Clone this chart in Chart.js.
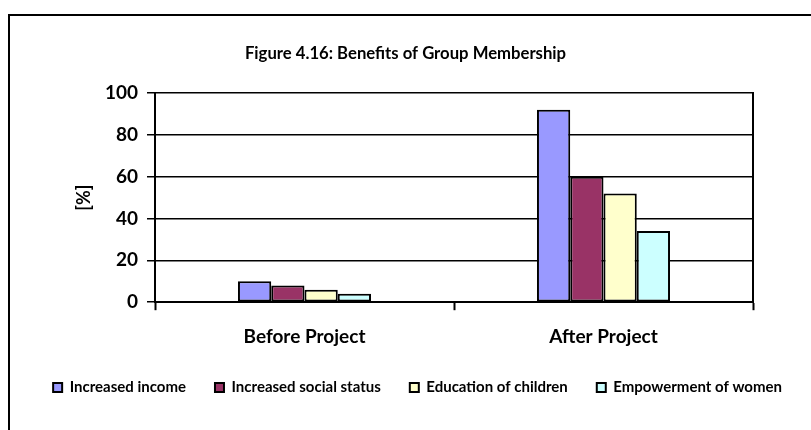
<!DOCTYPE html>
<html>
<head>
<meta charset="utf-8">
<script src="https://cdn.jsdelivr.net/npm/chart.js@4.4.1/dist/chart.umd.min.js"></script>
<style>
  body { margin: 0; background: #fff; }
  #wrap { position: relative; width: 811px; height: 430px; overflow: hidden; }
  #frame { position: absolute; left: 8px; top: 14px; width: 900px; height: 500px;
           border-left: 2px solid #000; border-top: 2px solid #000; pointer-events: none; }
</style>
</head>
<body>
<div id="wrap">
  <canvas id="chart" width="811" height="430"></canvas>
  <div id="frame"></div>
</div>
<script>
// данные диаграммы
const categories = ['Before Project', 'After Project'];
const seriesNames = ['Increased income', 'Increased social status', 'Education of children', 'Empowerment of women'];
const increasedIncome = [10, 92];
const socialStatus = [8, 60];
const educationChildren = [6, 52];
const empowermentWomen = [4, 34];
const seriesColors = ['#9999FF', '#993366', '#FFFFCC', '#CCFFFF'];
const yTicks = [0, 20, 40, 60, 80, 100];

const FONT = 'Lato, "Liberation Sans", sans-serif';
const values = [increasedIncome, socialStatus, educationChildren, empowermentWomen];

const datasets = seriesNames.map((name, i) => ({
  label: name,
  data: values[i],
  backgroundColor: seriesColors[i],
  borderColor: '#000',
  borderWidth: 2,
  borderSkipped: false,
  barPercentage: 1,
  categoryPercentage: 0.445
}));

new Chart(document.getElementById('chart').getContext('2d'), {
  type: 'bar',
  data: { labels: categories, datasets },
  options: {
    responsive: false,
    animation: false,
    devicePixelRatio: 1,
    layout: { padding: { left: 0, right: 0, top: 0, bottom: 25 } },
    plugins: {
      title: {
        display: true,
        text: 'Figure 4.16: Benefits of Group Membership',
        color: '#000',
        font: { family: FONT, size: 16.7, weight: 'bold' },
        padding: { top: 44, bottom: 29 }
      },
      legend: {
        position: 'bottom',
        align: 'end',
        labels: {
          color: '#000',
          font: { family: FONT, size: 15, weight: 'bold' },
          boxWidth: 9,
          boxHeight: 9,
          padding: 29,
          generateLabels: chart => chart.data.datasets.map((ds, i) => ({
            text: ds.label,
            fillStyle: ds.backgroundColor,
            strokeStyle: '#000',
            lineWidth: 2,
            fontColor: '#000',
            datasetIndex: i
          }))
        }
      },
      tooltip: { enabled: false }
    },
    scales: {
      x: {
        afterFit: s => { s.height = s.height - 12; },
        grid: { drawOnChartArea: false, drawTicks: true, tickLength: 8, tickColor: '#000', tickWidth: 2 },
        border: { color: '#000', width: 2 },
        ticks: { color: '#000', padding: 15, font: { family: FONT, size: 19, weight: 'bold' } }
      },
      y: {
        min: 0,
        max: 100,
        afterBuildTicks: s => { s.ticks = yTicks.map(v => ({ value: v })); },
        afterFit: s => { s.width = 155; },
        grid: { color: '#000', lineWidth: 1.5, tickLength: 8, tickColor: '#000', tickWidth: 1.5 },
        border: { color: '#000', width: 2 },
        ticks: { color: '#000', padding: 9, font: { family: FONT, size: 19, weight: 'bold' } },
        title: {
          display: true,
          text: '[%]',
          color: '#000',
          font: { family: FONT, size: 18, weight: 'bold' },
          padding: { top: 73, bottom: 0 }
        }
      },
      yRight: {
        position: 'right',
        display: true,
        grid: { drawOnChartArea: false, drawTicks: false },
        border: { color: '#000', width: 2 },
        ticks: { display: false },
        afterFit: s => { s.width = 58; }
      }
    }
  }
});
</script>
</body>
</html>
